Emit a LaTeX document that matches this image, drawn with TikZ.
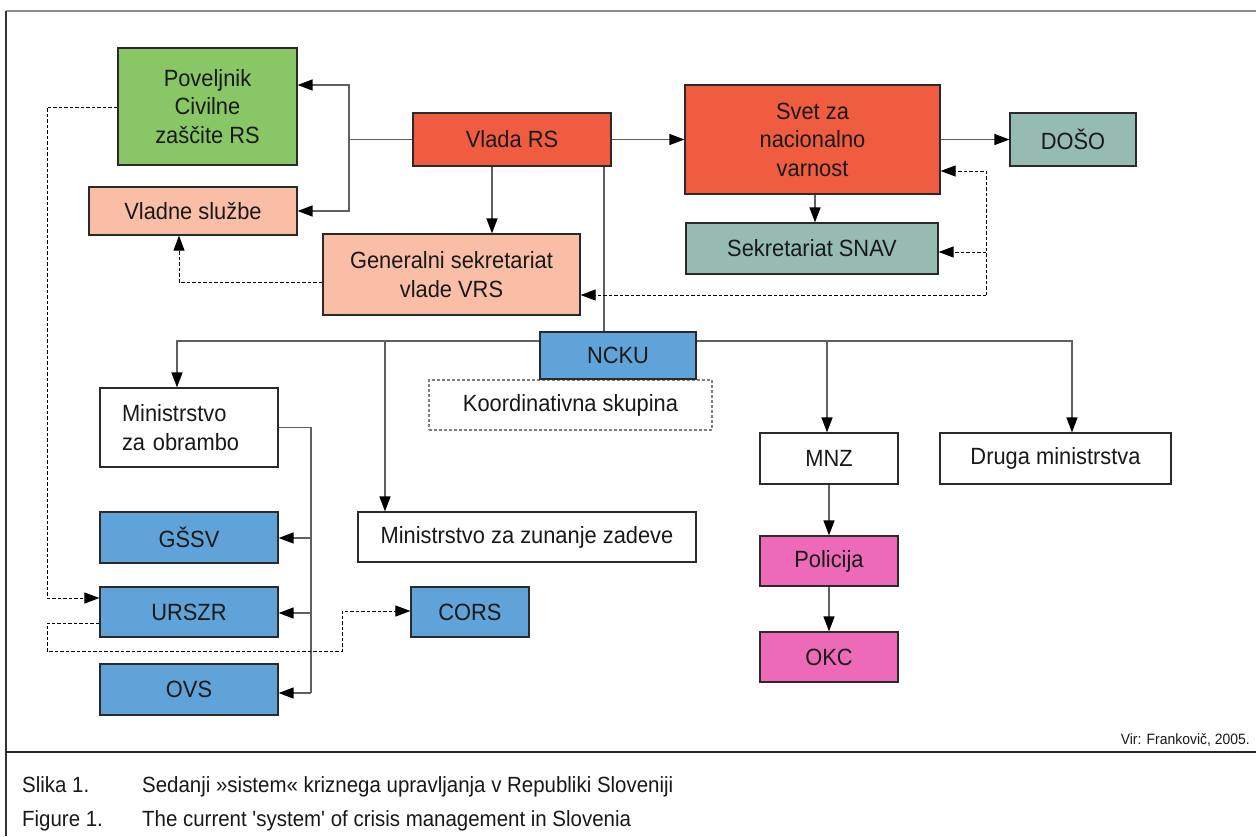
\documentclass[tikz,border=0pt]{standalone}
\usepackage{fontspec}
\newfontfamily\lib{Liberation Sans}[FakeStretch=0.93]
\usetikzlibrary{arrows.meta}
\definecolor{cgreen}{HTML}{89C766}
\definecolor{csalmon}{HTML}{FABEA6}
\definecolor{cred}{HTML}{F05C40}
\definecolor{cteal}{HTML}{96BBB1}
\definecolor{cblue}{HTML}{60A3D8}
\definecolor{cpink}{HTML}{EC6AB8}
\definecolor{boxline}{HTML}{2A2A2A}
\definecolor{lncol}{HTML}{606060}
\begin{document}
\begin{tikzpicture}[x=1pt,y=-1pt,
  box/.style={draw=boxline,line width=1.2pt,inner sep=0pt,align=center,
    font=\lib\fontsize{23.5}{28.5}\selectfont,text=black!90},
  ln/.style={draw=lncol,line width=1.3pt},
  arr/.style={ln,-{Triangle[length=15pt,width=11pt,color=black]}},
  dln/.style={draw=black,line width=1pt,dash pattern=on 3.5pt off 2pt},
  darr/.style={dln,-{Triangle[length=15pt,width=11pt]}},
  captext/.style={inner sep=0pt,anchor=base west,font=\lib\fontsize{22}{26}\selectfont,text=black!90}
]
\useasboundingbox (0,0) rectangle (1256,836);
\fill[white] (0,0) rectangle (1256,836);
% frame
\draw[draw=gray!90,line width=2pt] (6,11) -- (1256,11);
\draw[draw=black!80,line width=1.5pt] (6,11) -- (6,836);
\draw[draw=black!85,line width=1.5pt] (6,752) -- (1256,752);

% nodes
\node[box,fill=cgreen,minimum width=179pt,minimum height=117pt] (pov) at (207.5,106.5) {Poveljnik\\Civilne\\zaščite RS};
\node[box,fill=csalmon,minimum width=208pt,minimum height=48pt] (vs) at (193,211) {Vladne službe};
\node[box,fill=cred,minimum width=198pt,minimum height=53pt] (vlada) at (512,139.5) {Vlada RS};
\node[box,fill=csalmon,minimum width=257pt,minimum height=81pt] (gs) at (451.5,274.5) {Generalni sekretariat\\vlade VRS};
\node[box,fill=cred,minimum width=255pt,minimum height=109pt] (svet) at (812.5,139.5) {Svet za\\nacionalno\\varnost};
\node[box,fill=cteal,minimum width=126pt,minimum height=53pt] (doso) at (1073,139.5) {DOŠO};
\node[box,fill=cteal,minimum width=252pt,minimum height=51pt] (snav) at (812,248.5) {Sekretariat SNAV};
\node[box,draw=gray,dash pattern=on 3pt off 2pt,minimum width=283pt,minimum height=50pt] (koord) at (570.5,405) {Koordinativna skupina};
\node[box,fill=cblue,minimum width=156pt,minimum height=47pt] (ncku) at (618,355.5) {NCKU};
\node[box,fill=white,align=left,text width=134pt,inner xsep=22pt,minimum height=79pt] (mzo) at (189,427.5) {Ministrstvo\\za obrambo};
\node[box,fill=cblue,minimum width=178pt,minimum height=51pt] (gssv) at (189,537.5) {GŠSV};
\node[box,fill=cblue,minimum width=178pt,minimum height=50pt] (urszr) at (189,612) {URSZR};
\node[box,fill=cblue,minimum width=178pt,minimum height=51pt] (ovs) at (189,689.5) {OVS};
\node[box,fill=white,minimum width=338pt,minimum height=50pt] (mzz) at (527,537) {Ministrstvo za zunanje zadeve};
\node[box,fill=cblue,minimum width=118pt,minimum height=50pt] (cors) at (470,612) {CORS};
\node[box,fill=white,minimum width=138pt,minimum height=51pt] (mnz) at (829,458.5) {MNZ};
\node[box,fill=white,minimum width=231pt,minimum height=51pt] (druga) at (1055.5,458.5) {Druga ministrstva};
\node[box,fill=cpink,minimum width=138pt,minimum height=50pt] (pol) at (829,561) {Policija};
\node[box,fill=cpink,minimum width=138pt,minimum height=50pt] (okc) at (829,657) {OKC};

% helper coordinates
\coordinate (jv) at (349,139.5);
\coordinate (jd) at (986,295);
\coordinate (jds) at (986,252);
\coordinate (jbm) at (385,341);
\coordinate (jbn) at (827,341);
\coordinate (jm) at (311,427.5);
\coordinate (jmg) at (311,538);
\coordinate (jmu) at (311,613);
\coordinate (jmo) at (311,693);
\coordinate (jl) at (47,598);
\coordinate (jc1) at (47,651);
\coordinate (jc2) at (342,611);

% solid connectors
\draw[ln] (vlada.west) -- (jv);
\draw[arr] (jv) |- (pov.east |- 0,85);
\draw[arr] (jv) |- (vs.east);
\draw[arr] (vlada.south -| 492,0) -- (gs.north -| 492,0);
\draw[arr] (vlada.east) -- (svet.west);
\draw[arr] (svet.east) -- (doso.west);
\draw[arr] (svet.south -| 815,0) -- (snav.north -| 815,0);
\draw[ln] (vlada.south -| 604,0) -- (ncku.north -| 604,0);
\draw[arr] (ncku.west |- 0,341) -| (mzo.north -| 177,0);
\draw[arr] (jbm) -- (mzz.north -| jbm);
\draw[arr] (ncku.east |- 0,341) -| (druga.north -| 1072,0);
\draw[arr] (jbn) -- (mnz.north -| jbn);
\draw[ln] (mzo.east) -- (jm) -- (jmo);
\draw[arr] (jmg) -- (gssv.east |- jmg);
\draw[arr] (jmu) -- (urszr.east |- jmu);
\draw[arr] (jmo) -- (ovs.east |- jmo);
\draw[arr] (mnz) -- (pol);
\draw[arr] (pol) -- (okc);

% dashed connectors
\draw[darr] (jd) -- (gs.east |- jd);
\draw[darr] (jd) |- (svet.east |- 0,171);
\draw[darr] (jds) -- (snav.east |- jds);
\draw[darr] (gs.west |- 0,282) -| (vs.south -| 179,0);
\draw[darr] (pov.west |- 0,107) -| (jl) -- (urszr.west |- jl);
\draw[darr] (urszr.west |- 0,623) -| (jc1) -| (jc2) -- (cors.west |- jc2);

% texts
\node[inner sep=0pt,anchor=base east,font=\lib\fontsize{15}{18}\selectfont,text=black!90] (vir) at (1250,744) {Vir: Frankovič, 2005.};
\node[captext] (sl) at (22,792) {Slika 1.};
\node[captext] (slt) at (142,792) {Sedanji »sistem« kriznega upravljanja v Republiki Sloveniji};
\node[captext] (fg) at (22,826) {Figure 1.};
\node[captext] (fgt) at (142,826) {The current 'system' of crisis management in Slovenia};
\end{tikzpicture}
\end{document}
